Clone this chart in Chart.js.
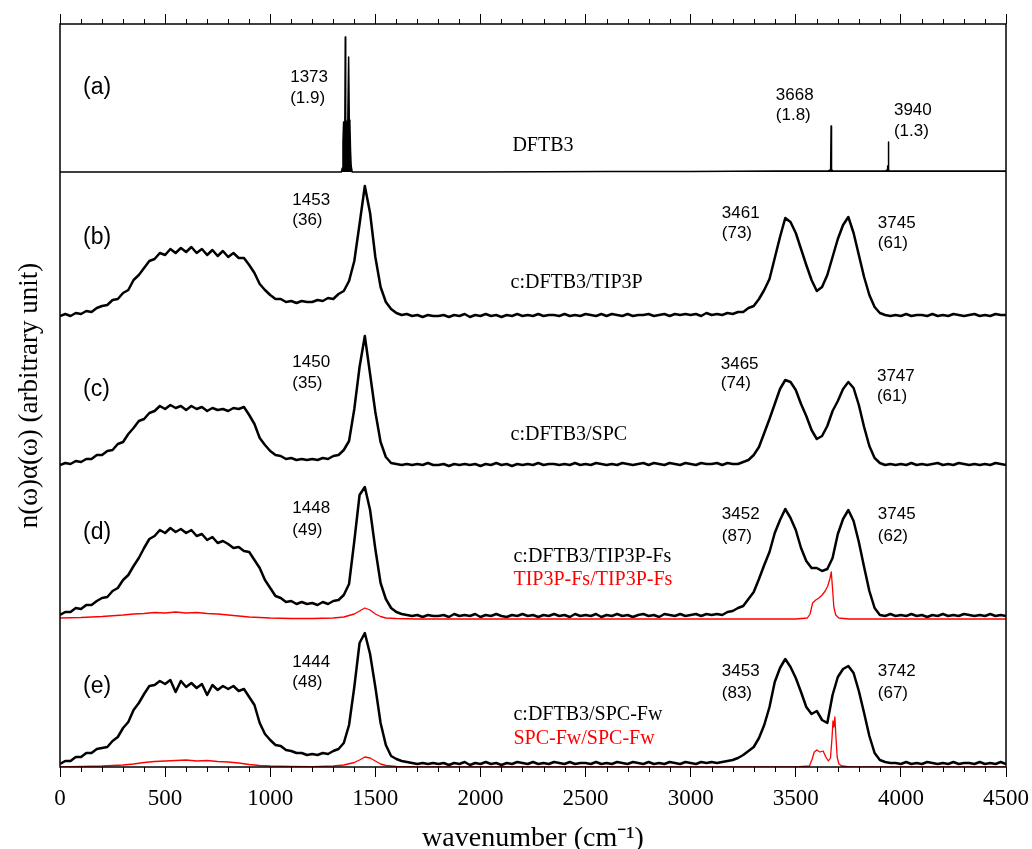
<!DOCTYPE html>
<html>
<head>
<meta charset="utf-8">
<script src="https://cdn.jsdelivr.net/npm/chart.js@4.4.1/dist/chart.umd.min.js"></script>
<style>
  html, body { margin: 0; padding: 0; background: #fff; }
  canvas { display: block; }
</style>
</head>
<body>
<canvas id="irChart" width="1032" height="849"></canvas>
<script>
// ===== DATA =====

// common wavenumber grid (cm-1) for the c:DFTB3 spectra, 0..4500 every 25
const wavenumbers = Array.from({ length: 181 }, (_, i) => i * 25);

// vertical offset of each panel baseline (arbitrary unit)
const panelNames = ['(a)', '(b)', '(c)', '(d)', '(e)'];
const panelOffsets = [595, 448, 300, 148, 0];

// (a) DFTB3 gas phase - stick like spectrum
const dftb3X = [0, 1000, 1338, 1343, 1346, 1349, 1352, 1355, 1357, 1359,
    1362, 1366, 1369, 1373, 1376, 1379, 1382, 1385, 1390, 2000,
    2600, 3000, 3400, 3655, 3663, 3665, 3667, 3668, 3669, 3671,
    3675, 3927, 3935, 3937, 3939, 3940, 3941, 3943, 3947, 4200, 4500];
const dftb3Y = [0, 0, 0, 4, 30, 50, 47, 52, 135, 50,
    48, 51, 50, 115, 52, 48, 22, 6, 0, 0,
    0.5, 0.5, 1, 1, 2, 8, 8, 46, 8, 3,
    1, 1, 2, 6, 6, 30, 6, 2, 1, 1, 1];

// (b) c:DFTB3/TIP3P
const tip3pY = [
    3, 5, 3, 6, 5, 8, 7, 11,
    13, 14, 19, 20, 26, 29, 39, 44,
    51, 58, 60, 66, 64, 70, 66, 71,
    67, 72, 66, 70, 64, 69, 63, 68,
    62, 66, 61, 61, 54, 46, 35, 29,
    24, 20, 20, 17, 18, 16, 18, 17,
    17, 19, 18, 21, 20, 25, 28, 38,
    58, 95, 133, 106, 62, 32, 17, 10,
    6, 4, 5, 3, 4, 2, 4, 3,
    3, 4, 2, 4, 3, 5, 2, 4,
    3, 5, 3, 4, 2, 4, 3, 5,
    3, 4, 3, 5, 3, 4, 4, 3,
    5, 3, 4, 3, 5, 4, 3, 5,
    3, 5, 4, 3, 5, 3, 4, 4,
    5, 3, 4, 5, 3, 5, 4, 5,
    4, 5, 3, 6, 4, 5, 4, 6,
    5, 7, 7, 11, 13, 20, 29, 40,
    61, 82, 101, 97, 86, 70, 54, 39,
    28, 32, 44, 62, 80, 94, 102, 86,
    64, 42, 24, 12, 6, 4, 3, 4,
    3, 5, 3, 4, 4, 3, 5, 3,
    4, 3, 5, 4, 3, 4, 5, 3,
    4, 3, 5, 4, 4];

// (c) c:DFTB3/SPC
const spcY = [
    2, 4, 3, 6, 5, 8, 8, 12,
    12, 16, 17, 23, 25, 33, 39, 46,
    48, 54, 56, 61, 58, 62, 59, 61,
    57, 61, 58, 60, 56, 59, 57, 58,
    56, 59, 58, 60, 52, 43, 29, 22,
    16, 12, 11, 8, 9, 7, 8, 7,
    8, 7, 9, 8, 11, 12, 17, 26,
    58, 100, 131, 93, 55, 25, 10, 4,
    3, 2, 3, 2, 3, 2, 4, 2,
    2, 3, 1, 3, 2, 3, 2, 3,
    1, 3, 2, 4, 2, 3, 1, 3,
    2, 3, 2, 4, 2, 3, 3, 2,
    3, 2, 4, 2, 3, 2, 4, 3,
    2, 3, 2, 4, 3, 2, 3, 4,
    2, 4, 3, 2, 4, 3, 2, 4,
    3, 2, 4, 3, 3, 4, 2, 4,
    3, 3, 5, 7, 12, 20, 34, 48,
    63, 78, 87, 85, 77, 63, 51, 37,
    28, 31, 41, 56, 66, 78, 85, 79,
    62, 40, 21, 9, 4, 2, 3, 2,
    3, 2, 4, 2, 3, 2, 3, 4,
    2, 3, 2, 4, 3, 2, 3, 2,
    3, 2, 4, 3, 2];

// (d) c:DFTB3/TIP3P-Fs
const tip3pFsY = [
    4, 7, 7, 11, 10, 14, 14, 18,
    21, 22, 28, 31, 39, 44, 53, 61,
    71, 80, 83, 89, 86, 91, 87, 90,
    86, 89, 83, 85, 79, 82, 76, 78,
    75, 71, 72, 68, 67, 59, 51, 39,
    31, 23, 21, 17, 18, 15, 17, 15,
    16, 14, 17, 15, 18, 19, 24, 35,
    78, 124, 132, 109, 70, 36, 20, 11,
    7, 5, 4, 3, 4, 2, 4, 3,
    3, 4, 2, 5, 3, 4, 3, 5,
    2, 4, 3, 5, 3, 2, 4, 3,
    5, 3, 4, 2, 4, 3, 5, 3,
    4, 2, 5, 3, 4, 3, 5, 2,
    4, 3, 5, 3, 4, 2, 4, 5,
    3, 4, 2, 5, 4, 3, 5, 3,
    4, 5, 3, 5, 4, 5, 4, 7,
    8, 11, 13, 20, 27, 40, 54, 67,
    86, 99, 110, 101, 89, 71, 58, 51,
    51, 48, 50, 61, 85, 100, 109, 98,
    77, 52, 28, 11, 4, 3, 5, 3,
    4, 3, 5, 3, 4, 2, 4, 3,
    5, 3, 4, 3, 5, 4, 3, 4,
    3, 5, 3, 4, 3];

// (d) TIP3P-Fs/TIP3P-Fs (red)
const fsRefX = [0, 100, 200, 300, 350, 400, 450, 500, 550, 600,
    650, 700, 750, 800, 850, 900, 950, 1000, 1100, 1200,
    1300, 1350, 1400, 1425, 1450, 1475, 1500, 1525, 1550, 1600,
    1700, 2000, 2500, 3000, 3500, 3555, 3568, 3580, 3595, 3610,
    3625, 3640, 3652, 3662, 3669, 3675, 3681, 3690, 3705, 3750,
    4000, 4500];
const fsRefY = [1, 1.5, 2.5, 4, 5, 5.5, 6.5, 6, 7, 6,
    6.5, 5.5, 5, 4, 3, 2, 1.5, 1, 0.5, 0.5,
    1, 2, 5, 8, 11, 9, 5, 2.5, 1, 0.5,
    0, 0, 0, 0, 0, 1, 5, 16, 19, 21,
    24, 28, 33, 40, 47, 30, 12, 4, 1, 0,
    0, 0];

// (e) c:DFTB3/SPC-Fw
const spcFwY = [
    3, 6, 6, 10, 10, 14, 14, 18,
    19, 20, 26, 30, 39, 45, 57, 64,
    73, 81, 82, 86, 83, 87, 75, 86,
    80, 84, 79, 83, 72, 82, 77, 81,
    78, 81, 76, 78, 70, 62, 44, 33,
    27, 22, 21, 17, 16, 14, 14, 12,
    13, 12, 14, 13, 16, 18, 24, 42,
    80, 124, 134, 113, 80, 44, 22, 11,
    8, 6, 5, 4, 3, 4, 3, 4,
    3, 4, 2, 4, 3, 5, 2, 4,
    3, 5, 3, 4, 2, 4, 3, 5,
    4, 3, 5, 3, 4, 3, 5, 4,
    3, 5, 3, 4, 4, 3, 5, 3,
    4, 3, 5, 4, 3, 5, 4, 3,
    5, 3, 4, 3, 5, 4, 3, 5,
    4, 3, 5, 4, 5, 4, 5, 6,
    7, 9, 12, 16, 20, 29, 42, 60,
    85, 99, 108, 100, 89, 75, 60, 53,
    56, 47, 44, 72, 90, 98, 101, 94,
    76, 54, 31, 14, 7, 5, 4, 4,
    3, 5, 3, 4, 3, 5, 4, 3,
    4, 3, 5, 3, 4, 4, 3, 5,
    3, 4, 3, 5, 3];

// (e) SPC-Fw/SPC-Fw (red)
const fwRefX = [0, 100, 200, 300, 350, 400, 450, 500, 550, 600,
    650, 700, 750, 800, 850, 900, 950, 1000, 1100, 1200,
    1300, 1350, 1400, 1425, 1450, 1475, 1500, 1525, 1550, 1600,
    1700, 2500, 3500, 3565, 3578, 3588, 3600, 3615, 3630, 3643,
    3655, 3665, 3672, 3677, 3681, 3686, 3691, 3697, 3705, 3720,
    3760, 4500];
const fwRefY = [0, 0.5, 1, 2, 3, 4.5, 5.5, 6, 6.5, 7,
    6, 6.5, 5.5, 5, 4, 2.5, 1.5, 1, 0.5, 0.3,
    1, 2, 4.5, 7, 10, 9, 6, 3, 1.5, 0.5,
    0, 0, 0, 1, 8, 15, 17, 15, 16, 10,
    6, 9, 28, 46, 40, 50, 30, 10, 3, 1,
    0, 0];

// axis ticks
const majorTicks = [0, 500, 1000, 1500, 2000, 2500, 3000, 3500, 4000, 4500];
const minorTicks = [];
for (let v = 100; v < 4500; v += 100) {
    if (v % 500 !== 0) minorTicks.push(v);
}

// ===== TEXT LABELS (x in cm-1, y in arbitrary unit) =====
const SANS = '"Liberation Sans", Arial, Helvetica, sans-serif';
const SERIF = '"Liberation Serif", "Times New Roman", Times, serif';
const RED = '#ff0000';

const peakLabels = [
    // (a)
    { text: '1373', x: 1095, y: 690 }, { text: '(1.9)', x: 1095, y: 669 },
    { text: '3668', x: 3405, y: 672 }, { text: '(1.8)', x: 3405, y: 652 },
    { text: '3940', x: 3967, y: 657 }, { text: '(1.3)', x: 3967, y: 636 },
    // (b)
    { text: '1453', x: 1105, y: 567 }, { text: '(36)', x: 1105, y: 547 },
    { text: '3461', x: 3148, y: 554 }, { text: '(73)', x: 3148, y: 534 },
    { text: '3745', x: 3890, y: 544 }, { text: '(61)', x: 3890, y: 524 },
    // (c)
    { text: '1450', x: 1105, y: 405 }, { text: '(35)', x: 1105, y: 384 },
    { text: '3465', x: 3143, y: 403 }, { text: '(74)', x: 3143, y: 384 },
    { text: '3747', x: 3886, y: 391 }, { text: '(61)', x: 3886, y: 371 },
    // (d)
    { text: '1448', x: 1105, y: 259 }, { text: '(49)', x: 1105, y: 237 },
    { text: '3452', x: 3148, y: 253 }, { text: '(87)', x: 3148, y: 231 },
    { text: '3745', x: 3890, y: 253 }, { text: '(62)', x: 3890, y: 231 },
    // (e)
    { text: '1444', x: 1105, y: 105 }, { text: '(48)', x: 1105, y: 85 },
    { text: '3453', x: 3148, y: 96 }, { text: '(83)', x: 3148, y: 74 },
    { text: '3742', x: 3890, y: 96 }, { text: '(67)', x: 3890, y: 74 }
];

const modelLabels = [
    { text: 'DFTB3', x: 2152, y: 621, color: '#000' },
    { text: 'c:DFTB3/TIP3P', x: 2143, y: 484, color: '#000' },
    { text: 'c:DFTB3/SPC', x: 2143, y: 332, color: '#000' },
    { text: 'c:DFTB3/TIP3P-Fs', x: 2157, y: 210, color: '#000' },
    { text: 'TIP3P-Fs/TIP3P-Fs', x: 2157, y: 187, color: RED },
    { text: 'c:DFTB3/SPC-Fw', x: 2157, y: 52, color: '#000' },
    { text: 'SPC-Fw/SPC-Fw', x: 2157, y: 28, color: RED }
];

const panelLabelY = [679, 529, 377, 234, 80];

// ===== CHART =====

function toPoints(xs, ys, offset) {
    return xs.map((x, i) => ({ x: x, y: ys[i] + offset }));
}

const frameAndText = {
    id: 'frameAndText',
    afterDatasetsDraw(chart) {
        const { ctx, chartArea: a, scales } = chart;
        const x = scales.x;
        const y = scales.y;
        ctx.save();

        ctx.strokeStyle = '#000';
        ctx.lineWidth = 1.5;
        ctx.strokeRect(a.left, a.top, a.right - a.left, a.bottom - a.top);

        ctx.lineWidth = 1;
        ctx.beginPath();
        minorTicks.forEach(v => {
            const px = Math.round(x.getPixelForValue(v)) + 0.5;
            ctx.moveTo(px, a.top);
            ctx.lineTo(px, a.top - 5);
            ctx.moveTo(px, a.bottom);
            ctx.lineTo(px, a.bottom + 5);
        });
        ctx.stroke();

        ctx.textAlign = 'left';
        ctx.textBaseline = 'middle';

        ctx.font = '23px ' + SANS;
        ctx.fillStyle = '#000';
        panelNames.forEach((name, i) => {
            ctx.fillText(name, x.getPixelForValue(110), y.getPixelForValue(panelLabelY[i]));
        });

        ctx.font = '17px ' + SANS;
        peakLabels.forEach(t => {
            ctx.fillText(t.text, x.getPixelForValue(t.x), y.getPixelForValue(t.y));
        });

        ctx.font = '20px ' + SERIF;
        modelLabels.forEach(t => {
            ctx.fillStyle = t.color;
            ctx.fillText(t.text, x.getPixelForValue(t.x), y.getPixelForValue(t.y));
        });

        ctx.restore();
    }
};

const ctx = document.getElementById('irChart');

const irChart = new Chart(ctx, {
    type: 'line',
    data: {
        datasets: [
            {
                label: 'TIP3P-Fs/TIP3P-Fs',
                data: toPoints(fsRefX, fsRefY, panelOffsets[3]),
                borderColor: RED,
                borderWidth: 1.3
            },
            {
                label: 'SPC-Fw/SPC-Fw',
                data: toPoints(fwRefX, fwRefY, panelOffsets[4]),
                borderColor: RED,
                borderWidth: 1.3
            },
            {
                label: 'DFTB3',
                data: toPoints(dftb3X, dftb3Y, panelOffsets[0]),
                borderColor: '#000',
                backgroundColor: '#000',
                borderWidth: 1.5,
                fill: { value: panelOffsets[0] }
            },
            {
                label: 'c:DFTB3/TIP3P',
                data: toPoints(wavenumbers, tip3pY, panelOffsets[1]),
                borderColor: '#000',
                borderWidth: 2.5
            },
            {
                label: 'c:DFTB3/SPC',
                data: toPoints(wavenumbers, spcY, panelOffsets[2]),
                borderColor: '#000',
                borderWidth: 2.5
            },
            {
                label: 'c:DFTB3/TIP3P-Fs',
                data: toPoints(wavenumbers, tip3pFsY, panelOffsets[3]),
                borderColor: '#000',
                borderWidth: 2.5
            },
            {
                label: 'c:DFTB3/SPC-Fw',
                data: toPoints(wavenumbers, spcFwY, panelOffsets[4]),
                borderColor: '#000',
                borderWidth: 2.5
            }
        ]
    },
    options: {
        responsive: false,
        animation: false,
        devicePixelRatio: 1,
        layout: {
            padding: { left: 0, right: 26, top: 0, bottom: 0 }
        },
        elements: {
            point: { radius: 0 },
            line: { tension: 0, fill: false, borderJoinStyle: 'round' }
        },
        plugins: {
            legend: { display: false },
            tooltip: { enabled: false }
        },
        scales: {
            x: {
                type: 'linear',
                position: 'bottom',
                min: 0,
                max: 4500,
                afterBuildTicks: axis => { axis.ticks = majorTicks.map(v => ({ value: v })); },
                ticks: {
                    color: '#000',
                    padding: 8,
                    maxRotation: 0,
                    font: { family: SERIF, size: 23 },
                    callback: value => String(value)
                },
                grid: {
                    drawOnChartArea: false,
                    tickLength: 10,
                    tickColor: '#000',
                    tickWidth: 1
                },
                border: { display: false },
                title: {
                    display: true,
                    text: 'wavenumber (cm\u207B\u00B9)',
                    color: '#000',
                    font: { family: SERIF, size: 28, lineHeight: 0.75 },
                    padding: { top: 0, bottom: 0 }
                },
                afterFit: axis => {
                    axis.height = 82;
                    axis.paddingLeft = 0;
                    axis.paddingRight = 0;
                }
            },
            xTop: {
                type: 'linear',
                position: 'top',
                min: 0,
                max: 4500,
                afterBuildTicks: axis => { axis.ticks = majorTicks.map(v => ({ value: v })); },
                ticks: { display: false },
                grid: {
                    drawOnChartArea: false,
                    tickLength: 10,
                    tickColor: '#000',
                    tickWidth: 1
                },
                border: { display: false },
                afterFit: axis => {
                    axis.height = 24;
                    axis.paddingLeft = 0;
                    axis.paddingRight = 0;
                }
            },
            y: {
                type: 'linear',
                min: 0,
                max: 743,
                ticks: { display: false },
                grid: { display: false },
                border: { display: false },
                title: {
                    display: true,
                    text: 'n(\u03C9)\u03B1(\u03C9) (arbitrary unit)',
                    color: '#000',
                    font: { family: SERIF, size: 27, lineHeight: 1 },
                    padding: { top: 16, bottom: 0 }
                },
                afterFit: axis => { axis.width = 60; }
            }
        }
    },
    plugins: [frameAndText]
});
</script>
</body>
</html>
